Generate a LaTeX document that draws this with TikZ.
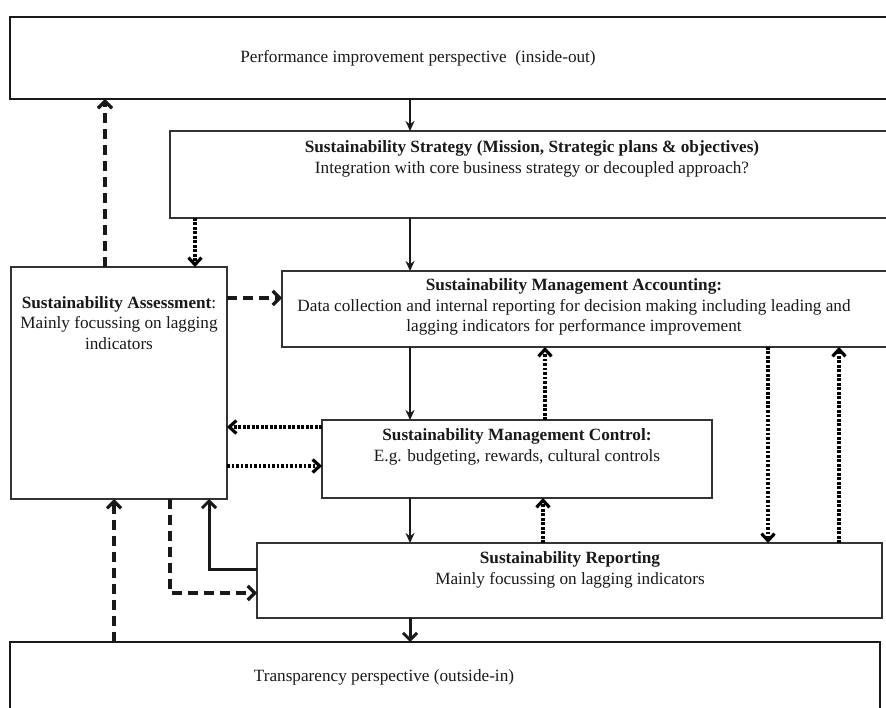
\documentclass[tikz,border=0pt]{standalone}
\usepackage{fontspec}
\setmainfont{Liberation Serif}
\usetikzlibrary{arrows.meta}
\tikzset{
	box/.style = {draw=black!80, line width=1.6pt, inner sep=0pt, outer sep=0pt, anchor=north west},
	bigbox/.style = {box, draw=black!90, line width=2.8pt},
	txt/.style = {align=center, text=black!90, font=\fontsize{17.2}{20.5}\selectfont},
	flow/.style = {draw=black!90, line width=1.9pt, -{Stealth[length=10pt, width=9pt]}},
	heavyflow/.style = {draw=black!90, line width=3pt, -{Straight Barb[length=7pt, width=14pt]}},
	dashflow/.style = {draw=black!90, line width=3.2pt, dash pattern=on 10pt off 6pt, -{Straight Barb[length=7pt, width=14pt]}},
	dotflow/.style = {draw=black, line width=3.2pt, dash pattern=on 2.6pt off 1.9pt, -{Straight Barb[length=7pt, width=13pt]}},
}

\begin{document}
\begin{tikzpicture}[x=1pt, y=-1pt]
	\useasboundingbox (0,0) rectangle (886,708);
	\clip (0,0) rectangle (886,708);
	\node[bigbox, minimum width=890pt, minimum height=82pt] (top) at (10,17) {};
	\node[box, minimum width=740pt, minimum height=87pt] (strat) at (170,131) {};
	\node[box, minimum width=628pt, minimum height=76pt] (acct) at (282,271) {};
	\node[box, minimum width=216pt, minimum height=232pt] (assess) at (11,267) {};
	\node[box, minimum width=390pt, minimum height=78pt] (ctrl) at (322,420) {};
	\node[box, minimum width=625pt, minimum height=75pt] (report) at (257,543) {};
	\node[bigbox, minimum width=870pt, minimum height=90pt] (transp) at (10,642) {};
	\node[txt] (toptxt) at (418,58) {Performance improvement perspective\ \ (inside-out)};
	\node[txt] (strattxt) at (532,159) {\textbf{Sustainability Strategy (Mission, Strategic plans \& objectives)}\\
		Integration with core business strategy or decoupled approach?};
	\node[txt] (accttxt) at (574,307) {\textbf{Sustainability Management Accounting:}\\
		Data collection and internal reporting for decision making including leading and\\
		lagging indicators for performance improvement};
	\node[txt] (assesstxt) at (119,323) {\textbf{Sustainability Assessment}:\\
		Mainly focussing on lagging\\ indicators};
	\node[txt] (ctrltxt) at (517,447) {\textbf{Sustainability Management Control:}\\
		E.g. budgeting, rewards, cultural controls};
	\node[txt] (reporttxt) at (570,570) {\textbf{Sustainability Reporting}\\
		Mainly focussing on lagging indicators};
	\node[txt] (transptxt) at (384,677) {Transparency perspective (outside-in)};
	\coordinate (spine) at (410,0);
	\foreach \a/\b in {top/strat, strat/acct, acct/ctrl, ctrl/report}
	{
		\draw[flow] (\a.south -| spine) -- (\b.north -| spine);
	}
	\draw[heavyflow] (report.south -| spine) -- (transp.north -| spine);
	\draw[heavyflow] (report.west |- 0,569) -| (assess.south -| 209,0);
	\draw[dashflow] (assess.north -| 105,0) -- (top.south -| 105,0);
	\draw[dashflow] (transp.north -| 114,0) -- (assess.south -| 114,0);
	\draw[dashflow] (assess.south -| 170,0) |- (report.west |- 0,593);
	\draw[dashflow] (assess.east |- 0,298) -- (acct.west |- 0,298);
	\draw[dotflow] (strat.south -| 195,0) -- (assess.north -| 195,0);
	\draw[dotflow] (ctrl.west |- 0,427) -- (assess.east |- 0,427);
	\draw[dotflow] (assess.east |- 0,466) -- (ctrl.west |- 0,466);
	\draw[dotflow] (ctrl.north -| 545,0) -- (acct.south -| 545,0);
	\draw[dotflow] (report.north -| 543,0) -- (ctrl.south -| 543,0);
	\draw[dotflow] (acct.south -| 768,0) -- (report.north -| 768,0);
	\draw[dotflow] (report.north -| 839,0) -- (acct.south -| 839,0);
\end{tikzpicture}
\end{document}
